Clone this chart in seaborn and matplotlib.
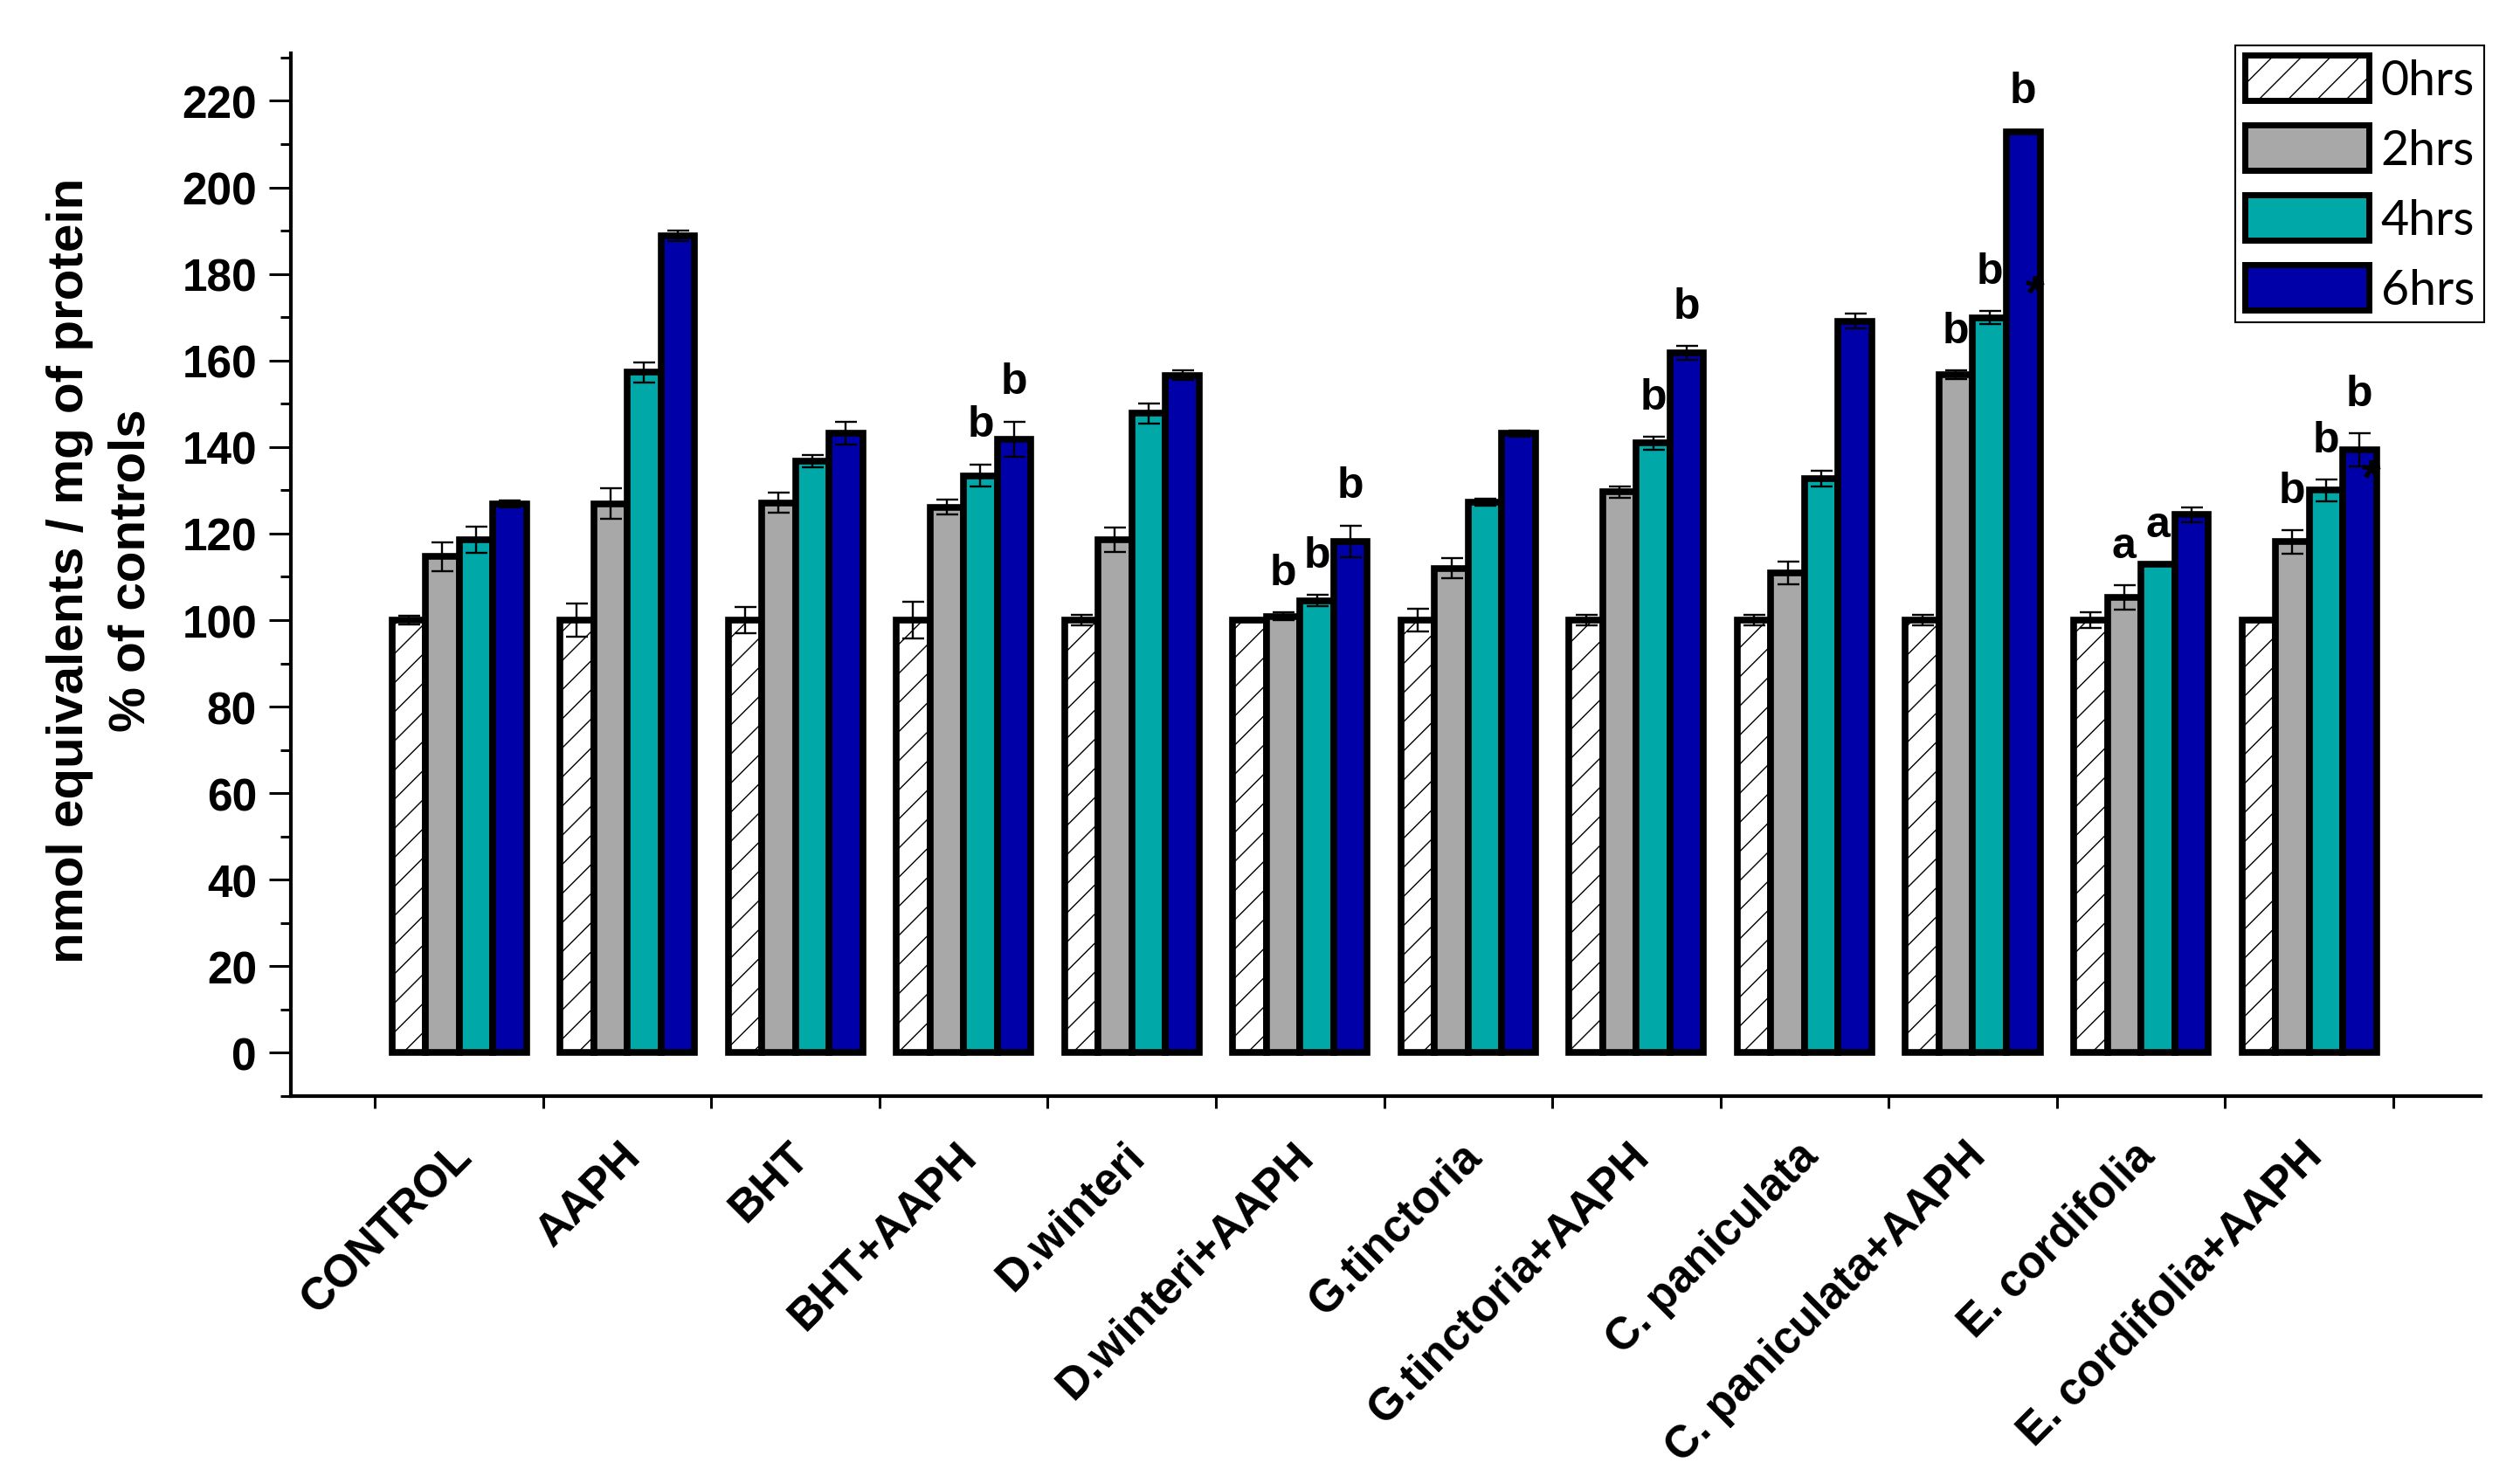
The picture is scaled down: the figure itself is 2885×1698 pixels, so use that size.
import numpy as np
import pandas as pd
import seaborn as sns
import matplotlib.pyplot as plt
import matplotlib.ticker as mticker
from matplotlib.patches import Patch


GROUPS = ["CONTROL", "AAPH", "BHT", "BHT+AAPH", "D.winteri", "D.winteri+AAPH",
          "G.tinctoria", "G.tinctoria+AAPH", "C. paniculata", "C. paniculata+AAPH",
          "E. cordifolia", "E. cordifolia+AAPH"]
TIMES = ["0hrs", "2hrs", "4hrs", "6hrs"]

hrs0 = [100, 100, 100, 100, 100, 100, 100, 100, 100, 100, 100, 100]
hrs2 = [114.7, 126.9, 127.1, 126.1, 118.6, 100.9, 112.0, 129.6, 110.9, 156.7, 105.2, 118.1]
hrs4 = [118.6, 157.3, 136.8, 133.4, 147.8, 104.5, 127.2, 140.9, 132.7, 169.9, 112.9, 130.0]
hrs6 = [126.8, 188.8, 143.2, 141.8, 156.6, 118.2, 143.1, 161.7, 169.1, 212.9, 124.4, 139.3]

err0 = [1.0, 3.8, 3.0, 4.2, 1.2, 0.5, 2.7, 1.2, 1.2, 1.2, 1.9, 0.4]
err2 = [3.3, 3.5, 2.3, 1.7, 2.9, 0.9, 2.3, 1.3, 2.6, 1.0, 2.8, 2.7]
err4 = [3.1, 2.3, 1.4, 2.6, 2.3, 1.3, 0.8, 1.5, 1.8, 1.5, 0.0, 2.5]
err6 = [0.8, 1.2, 2.7, 4.1, 1.1, 3.7, 0.7, 1.6, 1.7, 0.3, 1.7, 3.8]

# significance letters: (group, time, letter)
letters = [("BHT+AAPH", "4hrs", "b"), ("BHT+AAPH", "6hrs", "b"),
           ("D.winteri+AAPH", "2hrs", "b"), ("D.winteri+AAPH", "4hrs", "b"), ("D.winteri+AAPH", "6hrs", "b"),
           ("G.tinctoria+AAPH", "4hrs", "b"), ("G.tinctoria+AAPH", "6hrs", "b"),
           ("C. paniculata+AAPH", "2hrs", "b"), ("C. paniculata+AAPH", "4hrs", "b"), ("C. paniculata+AAPH", "6hrs", "b"),
           ("E. cordifolia", "2hrs", "a"), ("E. cordifolia", "4hrs", "a"),
           ("E. cordifolia+AAPH", "2hrs", "b"), ("E. cordifolia+AAPH", "4hrs", "b"), ("E. cordifolia+AAPH", "6hrs", "b")]
# stray asterisks: (group, time, y value)
stars = [("C. paniculata+AAPH", "6hrs", 175), ("E. cordifolia+AAPH", "6hrs", 132.5)]

COLORS = ["#FFFFFF", "#A8A8A8", "#00A8A8", "#0000A8"]
FONT = "Liberation Sans"

values = [hrs0, hrs2, hrs4, hrs6]
errors = [err0, err2, err4, err6]
rows = []
for t, vals, errs in zip(TIMES, values, errors):
    for g, v, e in zip(GROUPS, vals, errs):
        rows.append({"group": g, "time": t, "value": v, "err": e})
df = pd.DataFrame(rows)

sns.set_theme(style="ticks")
plt.rcParams["font.family"] = [FONT, "DejaVu Sans"]
plt.rcParams["hatch.linewidth"] = 1.0
for key in ["text.color", "axes.labelcolor", "xtick.color", "ytick.color", "axes.edgecolor"]:
    plt.rcParams[key] = "black"

fig = plt.figure(figsize=(28.85, 16.99), dpi=100)
ax = fig.add_axes([333 / 2885, 1 - 1256 / 1699, (2840 - 333) / 2885, (1256 - 62) / 1699])

sns.barplot(data=df, x="group", y="value", hue="time", order=GROUPS, hue_order=TIMES,
            palette=COLORS, saturation=1, width=0.8, errorbar=None, legend=False,
            edgecolor="black", linewidth=5.5, ax=ax)

for bar in ax.containers[0]:
    bar.set_hatch("/")

centers = {}
for t, cont in zip(TIMES, ax.containers):
    xs = [b.get_x() + b.get_width() / 2 for b in cont]
    sub = df[df["time"] == t].set_index("group").loc[GROUPS]
    ax.errorbar(xs, sub["value"], yerr=sub["err"], fmt="none", ecolor="black",
                elinewidth=1.7, capsize=9, capthick=1.7, zorder=5)
    for g, x in zip(GROUPS, xs):
        centers[(g, t)] = x

lookup = df.set_index(["group", "time"])
for g, t, s in letters:
    v = lookup.loc[(g, t), "value"] + lookup.loc[(g, t), "err"]
    ax.text(centers[(g, t)], v + 4.5, s, ha="center", va="bottom",
            fontsize=36, fontweight="bold", color="black", zorder=6)
for g, t, y in stars:
    ax.text(centers[(g, t)] + 0.07, y, "*", ha="center", va="center",
            fontsize=40, fontweight="bold", color="black", zorder=6)

ax.set_xlim(-1.0, 12.02)
ax.set_ylim(-10, 231)
ax.yaxis.set_major_locator(mticker.MultipleLocator(20))
ax.yaxis.set_minor_locator(mticker.MultipleLocator(10))
ax.set_yticks(np.arange(0, 221, 20))
ax.set_yticklabels([str(v) for v in range(0, 221, 20)], fontsize=37, fontweight="bold")

# label anchors sit a touch left of the group centres (major ticks are invisible)
ax.set_xticks(np.arange(len(GROUPS)) - 0.05)
ax.set_xticklabels(GROUPS, rotation=45, ha="right", va="top", rotation_mode="anchor",
                   fontsize=37, fontweight="bold")
ax.xaxis.set_minor_locator(mticker.FixedLocator(np.arange(-0.5, 12, 1.0)))
ax.tick_params(axis="x", which="major", length=0, pad=31)
ax.tick_params(axis="x", which="minor", length=10, width=2.2, direction="out")
ax.tick_params(axis="y", which="major", length=18, width=2.2, pad=10, direction="out")
ax.tick_params(axis="y", which="minor", length=9, width=2.2, direction="out")

ax.set_xlabel("")
ax.set_ylabel("nmol equivalents / mg of protein\n% of controls", fontsize=42,
              fontweight="bold", linespacing=1.4)
ax.yaxis.set_label_coords(-0.062, 0.505)

sns.despine(ax=ax)
for side in ["left", "bottom"]:
    ax.spines[side].set_linewidth(3)
    ax.spines[side].set_color("black")

handles = [Patch(facecolor=c, edgecolor="black", linewidth=5, hatch=h)
           for c, h in zip(COLORS, ["/", "", "", ""])]
leg = fig.legend(handles, TIMES, loc="upper right", bbox_to_anchor=(2844 / 2885, 1 - 53 / 1699),
                 frameon=True, fancybox=False, framealpha=1, edgecolor="black",
                 prop={"family": "Lato", "size": 40}, handlelength=2.55, handleheight=1.06,
                 handletextpad=0.25, labelspacing=0.45, borderpad=0.2, borderaxespad=0)
leg.get_frame().set_linewidth(1.5)

fig.savefig("out.png", dpi=100)
